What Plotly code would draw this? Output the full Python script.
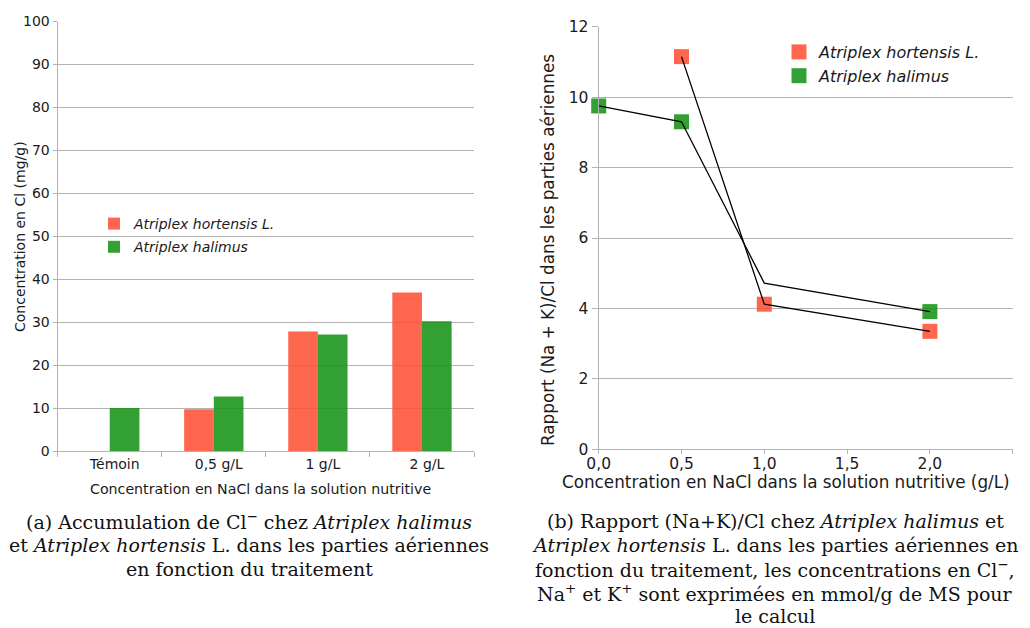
import plotly.graph_objects as go

# Chloride accumulation in aerial parts (mg/g) by NaCl treatment
treatments = ["Témoin", "0,5 g/L", "1 g/L", "2 g/L"]
cl_hortensis = [None, 9.7, 27.8, 36.9]
cl_halimus = [10.0, 12.7, 27.1, 30.2]

# (Na + K)/Cl ratio by NaCl concentration (g/L)
nacl_conc = [0.0, 0.5, 1.0, 2.0]
ratio_hortensis = [None, 11.15, 4.12, 3.35]
ratio_halimus = [9.75, 9.30, 4.72, 3.91]
halimus_marker_shown = [True, True, False, True]

name_hortensis = "<i>Atriplex hortensis L.</i>"
name_halimus = "<i>Atriplex halimus</i>"

red = "rgba(255,81,53,0.88)"
green = "rgba(23,147,23,0.88)"
grid = "#b3b3b3"
sans = "DejaVu Sans"
serif = "DejaVu Serif"

W, H = 1030, 628


def px_x(v):
    return v / W


def px_y(v):
    return 1 - v / H


fig = go.Figure()

# Bar chart (a)
fig.add_trace(go.Bar(x=treatments, y=cl_hortensis, name=name_hortensis,
                     marker=dict(color=red, line=dict(width=0)),
                     xaxis="x", yaxis="y", legend="legend", legendgroup="a1"))
fig.add_trace(go.Bar(x=treatments, y=cl_halimus, name=name_halimus,
                     marker=dict(color=green, line=dict(width=0)),
                     xaxis="x", yaxis="y", legend="legend", legendgroup="a2"))

# Scatter chart (b): square markers, then the black connecting lines on top
fig.add_trace(go.Scatter(x=nacl_conc, y=ratio_hortensis, mode="markers",
                         name=name_hortensis, cliponaxis=False,
                         marker=dict(symbol="square", size=15, color=red),
                         xaxis="x2", yaxis="y2", legend="legend2", legendgroup="b1"))
fig.add_trace(go.Scatter(x=nacl_conc,
                         y=[v if s else None for v, s in zip(ratio_halimus, halimus_marker_shown)],
                         mode="markers", name=name_halimus, cliponaxis=False,
                         marker=dict(symbol="square", size=15, color=green),
                         xaxis="x2", yaxis="y2", legend="legend2", legendgroup="b2"))
for series in (ratio_hortensis, ratio_halimus):
    fig.add_trace(go.Scatter(x=nacl_conc, y=series, mode="lines", connectgaps=False,
                             line=dict(color="black", width=1.3), showlegend=False,
                             cliponaxis=False,
                             xaxis="x2", yaxis="y2", hoverinfo="skip"))

axis_common = dict(showline=True, linecolor=grid, linewidth=1.3, ticks="outside",
                   tickcolor=grid, tickwidth=1.3, automargin=False, zeroline=False)

fig.update_layout(
    width=W, height=H,
    margin=dict(l=0, r=0, t=0, b=0),
    paper_bgcolor="white", plot_bgcolor="white",
    separators=", ",
    font=dict(family=sans, color="#1a1a1a", size=14),
    barmode="group", bargap=0.43, bargroupgap=0,
    xaxis=dict(domain=[px_x(57.7), px_x(474)], type="category", range=[-0.5, 3.5],
               tickson="boundaries", ticklen=5, ticklabelshift=5, showgrid=False,
               tickfont=dict(size=14), anchor="y", **axis_common),
    yaxis=dict(domain=[px_y(451), px_y(21.5)], range=[0, 100], dtick=10, ticklen=4,
               showgrid=True, gridcolor=grid, gridwidth=1.3,
               tickfont=dict(size=14), anchor="x", **axis_common),
    xaxis2=dict(domain=[px_x(598.7), px_x(1012.7)], range=[0, 2.5],
                tickvals=[0, 0.5, 1.0, 1.5, 2.0, 2.5],
                ticktext=["0,0", "0,5", "1,0", "1,5", "2,0", ""],
                ticklen=4, ticklabelstandoff=-4, showgrid=False,
                tickfont=dict(size=15.5), anchor="y2", **axis_common),
    yaxis2=dict(domain=[px_y(449.3), px_y(26.7)], range=[0, 12], dtick=2, ticklen=6,
                showgrid=True, gridcolor=grid, gridwidth=1.3,
                tickfont=dict(size=15.5), anchor="x2", **axis_common),
    legend=dict(x=px_x(94), y=px_y(208), xanchor="left", yanchor="top",
                bgcolor="rgba(0,0,0,0)", font=dict(size=14), tracegroupgap=2,
                traceorder="grouped"),
    legend2=dict(x=px_x(779), y=px_y(35), xanchor="left", yanchor="top",
                 bgcolor="rgba(0,0,0,0)", font=dict(size=16), tracegroupgap=0,
                 traceorder="grouped"),
)

annotations = [
    dict(text="Concentration en Cl (mg/g)", x=px_x(20), y=px_y(237), textangle=-90,
         font=dict(size=14)),
    dict(text="Concentration en NaCl dans la solution nutritive", x=px_x(260),
         y=px_y(489), font=dict(size=14.2)),
    dict(text="Rapport (Na + K)/Cl dans les parties aériennes", x=px_x(548),
         y=px_y(250), textangle=-90, font=dict(size=16.8)),
    dict(text="Concentration en NaCl dans la solution nutritive (g/L)", x=px_x(786),
         y=px_y(482), font=dict(size=16.8)),
]

caption_a = [
    "(a) Accumulation de Cl<sup>−</sup> chez <i>Atriplex halimus</i>",
    "et <i>Atriplex hortensis</i> L. dans les parties aériennes",
    "en fonction du traitement",
]
caption_b = [
    "(b) Rapport (Na+K)/Cl chez <i>Atriplex halimus</i> et",
    "<i>Atriplex hortensis</i> L. dans les parties aériennes en",
    "fonction du traitement, les concentrations en Cl<sup>−</sup>,",
    "Na<sup>+</sup> et K<sup>+</sup> sont exprimées en mmol/g de MS pour",
    "le calcul",
]
line_y = [521, 545, 569, 593, 616]
for i, line in enumerate(caption_a):
    annotations.append(dict(text=line, x=px_x(249), y=px_y(line_y[i]),
                            font=dict(family=serif, size=19, color="#111")))
for i, line in enumerate(caption_b):
    annotations.append(dict(text=line, x=px_x(775), y=px_y(line_y[i]),
                            font=dict(family=serif, size=19, color="#111")))

for a in annotations:
    a.update(xref="paper", yref="paper", showarrow=False, xanchor="center",
             yanchor="middle")
    a.setdefault("font", {})
    a["font"].setdefault("family", sans)
    a["font"].setdefault("color", "#1a1a1a")
fig.update_layout(annotations=annotations)

fig.write_html("out.html")
